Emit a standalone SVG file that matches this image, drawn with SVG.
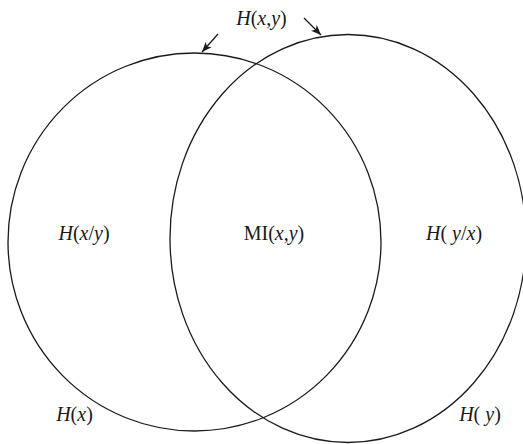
<svg xmlns="http://www.w3.org/2000/svg" width="523" height="444" viewBox="0 0 523 444">
<style>
.c{fill:none;stroke:#1a1a1a;stroke-width:1.3}
.a{stroke:#1a1a1a;stroke-width:1.3;fill:none}
text{font-family:"Liberation Serif","Times New Roman",serif;font-size:20px;fill:#1a1a1a}
.i{font-style:italic}
</style>
<defs>
<marker id="ah" viewBox="0 0 10 10" refX="10" refY="5" markerWidth="10" markerHeight="10" markerUnits="userSpaceOnUse" orient="auto">
<path d="M0,1 L10,5 L0,9 L2.5,5 Z" fill="#1a1a1a"/>
</marker>
</defs>
<g id="left-set"><ellipse class="c" cx="194.5" cy="242" rx="186.5" ry="189"/></g>
<g id="right-set"><ellipse class="c" cx="348" cy="238.5" rx="178" ry="204"/></g>
<g id="connectors">
<line class="a" x1="218" y1="34" x2="202" y2="52" marker-end="url(#ah)"/>
<line class="a" x1="304" y1="18" x2="321" y2="35" marker-end="url(#ah)"/>
</g>
<g id="labels">
<text x="261.5" y="25" text-anchor="middle"><tspan class="i">H</tspan>(<tspan class="i">x</tspan>,<tspan class="i">y</tspan>)</text>
<text x="84" y="240" text-anchor="middle"><tspan class="i">H</tspan>(<tspan class="i">x</tspan>/<tspan class="i">y</tspan>)</text>
<text x="274" y="240" text-anchor="middle">MI(<tspan class="i">x</tspan>,<tspan class="i">y</tspan>)</text>
<text x="454" y="240" text-anchor="middle"><tspan class="i">H</tspan>( <tspan class="i">y</tspan>/<tspan class="i">x</tspan>)</text>
<text x="74.5" y="421" text-anchor="middle"><tspan class="i">H</tspan>(<tspan class="i">x</tspan>)</text>
<text x="480" y="421" text-anchor="middle"><tspan class="i">H</tspan>( <tspan class="i">y</tspan>)</text>
</g>
</svg>
